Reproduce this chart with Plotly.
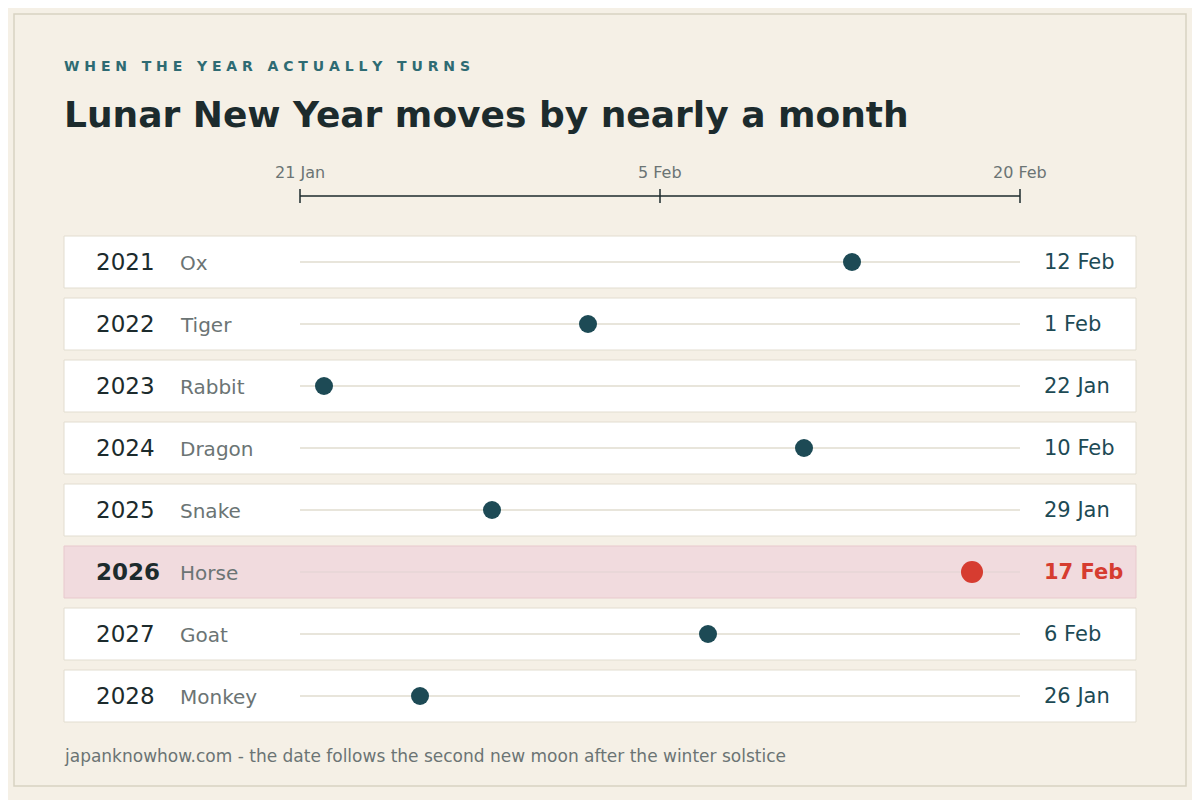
import plotly.graph_objects as go

years = ["2021", "2022", "2023", "2024", "2025", "2026", "2027", "2028"]
animals = ["Ox", "Tiger", "Rabbit", "Dragon", "Snake", "Horse", "Goat", "Monkey"]
date_labels = ["12 Feb", "1 Feb", "22 Jan", "10 Feb", "29 Jan", "17 Feb", "6 Feb", "26 Jan"]
# days after 21 Jan as plotted in the reference
day_offsets = [23, 12, 1, 21, 8, 28, 17, 5]
tick_days = [0, 15, 30]
tick_labels = ["21 Jan", "5 Feb", "20 Feb"]
highlight = "2026"

PX = 24.0
X0 = 300.0
OFF = 8  # page offset compensation
def dx(px):
    return (px - X0) / PX

FONT = "DejaVu Sans"
fig = go.Figure()
shapes = []
ann = []

shapes.append(dict(type="rect", x0=dx(14), x1=dx(1186), y0=14, y1=786,
                   line=dict(color="#d8d2c2", width=1.5), fillcolor="rgba(0,0,0,0)", layer="below"))

shapes.append(dict(type="line", x0=tick_days[0], x1=tick_days[-1], y0=196, y1=196,
                   line=dict(color="#1c2b2d", width=1.5)))
for d, t in zip(tick_days, tick_labels):
    shapes.append(dict(type="line", x0=d, x1=d, y0=189, y1=203, line=dict(color="#1c2b2d", width=1.5)))
    ann.append(dict(x=d, y=172, text=t, showarrow=False, xanchor="center", yanchor="middle",
                    font=dict(family=FONT, size=16, color="#6b7474")))

dot_x, dot_y, dot_c, dot_s = [], [], [], []
for i, (yr, an, dl, off) in enumerate(zip(years, animals, date_labels, day_offsets)):
    cy = 262 + 62 * i
    hl = yr == highlight
    shapes.append(dict(type="rect", x0=dx(64), x1=dx(1136), y0=cy - 26, y1=cy + 26,
                       fillcolor="#f1dbde" if hl else "#ffffff",
                       line=dict(color="#e8c9cd" if hl else "#e2ddd0", width=1), layer="below"))
    shapes.append(dict(type="line", x0=tick_days[0], x1=tick_days[-1], y0=cy, y1=cy,
                       line=dict(color="#e6d6d6" if hl else "#e0dccf", width=1.5), layer="below"))
    ann.append(dict(x=dx(96), y=cy, text=f"<b>{yr}</b>" if hl else yr, showarrow=False, xanchor="left",
                    yanchor="middle", xshift=-2, font=dict(family=FONT, size=23, color="#1c2b2d")))
    ann.append(dict(x=dx(180), y=cy + 1, text=an, showarrow=False, xanchor="left", yanchor="middle",
                    xshift=-2, font=dict(family=FONT, size=20, color="#6b7474")))
    ann.append(dict(x=dx(1044), y=cy, text=f"<b>{dl}</b>" if hl else dl, showarrow=False, xanchor="left",
                    yanchor="middle", xshift=-2,
                    font=dict(family=FONT, size=21, color="#d63c30" if hl else "#1d4a55")))
    dot_x.append(off); dot_y.append(cy)
    dot_c.append("#d63c30" if hl else "#1d4a55")
    dot_s.append(22 if hl else 18)

fig.add_trace(go.Scatter(x=dot_x, y=dot_y, mode="markers",
                         marker=dict(color=dot_c, size=dot_s, opacity=1, line=dict(width=0)),
                         opacity=1, hoverinfo="skip", showlegend=False))

ann.append(dict(x=dx(64), y=66, text="<b>W H E N   T H E   Y E A R   A C T U A L L Y   T U R N S</b>",
                showarrow=False, xanchor="left", yanchor="middle", xshift=-2,
                font=dict(family=FONT, size=14, color="#2e6b73")))
ann.append(dict(x=dx(64), y=114, text="<b>Lunar New Year moves by nearly a month</b>", showarrow=False,
                xanchor="left", yanchor="middle", xshift=-2, font=dict(family=FONT, size=36, color="#1c2b2d")))
ann.append(dict(x=dx(64), y=756, text="japanknowhow.com - the date follows the second new moon after the winter solstice",
                showarrow=False, xanchor="left", yanchor="middle", xshift=-2,
                font=dict(family=FONT, size=17, color="#6b7474")))

fig.update_layout(
    width=1200, height=800, margin=dict(l=0, r=0, t=0, b=0),
    paper_bgcolor="#f5f0e6", plot_bgcolor="#f5f0e6",
    xaxis=dict(range=[dx(OFF), dx(1200 + OFF)], visible=False, fixedrange=True),
    yaxis=dict(range=[800 + OFF, OFF], visible=False, fixedrange=True),
    shapes=shapes, annotations=ann, showlegend=False,
)
fig.write_html("out.html")
